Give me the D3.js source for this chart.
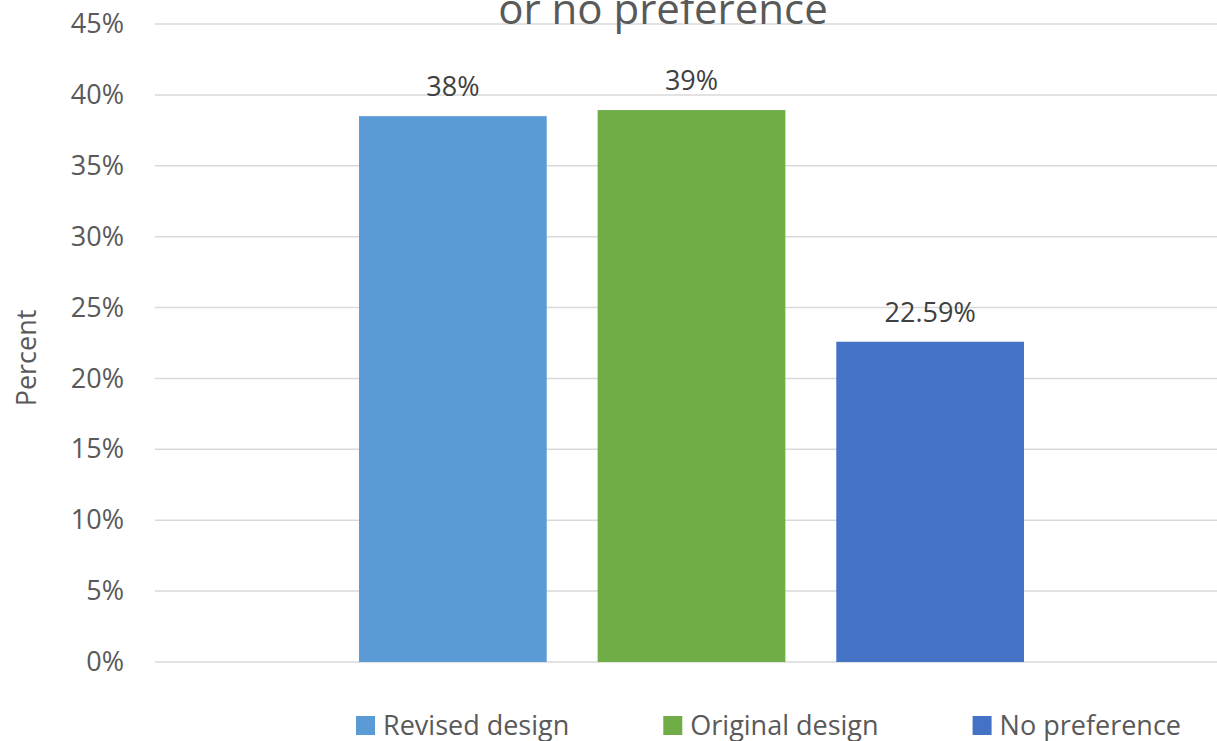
<!DOCTYPE html>
<html>
<head>
<meta charset="utf-8">
<script src="https://d3js.org/d3.v7.min.js"></script>
<style>
  body { margin: 0; background: #fff; }
  text { font-family: "Open Sans", "Noto Sans", sans-serif; }
</style>
</head>
<body>
<script>
// Data
let categories = [""];
let seriesNames = ["Revised design", "Original design", "No preference"];
let seriesValues = [38.5, 38.93, 22.59];
let valueLabels = ["38%", "39%", "22.59%"];
let seriesColors = ["#5b9bd5", "#70ad47", "#4472c4"];
let yTicks = [0, 5, 10, 15, 20, 25, 30, 35, 40, 45];

let W = 1217, H = 741;
let margin = { left: 155, right: -11, top: 24, bottom: 79 };

let svg = d3.select('body').append('svg')
            .attr('width', W)
            .attr('height', H);

let y = d3.scaleLinear()
          .domain([0, 45])
          .range([H - margin.bottom, margin.top]);

let x0 = d3.scaleBand()
           .domain(categories)
           .range([margin.left, W - margin.right])
           .paddingInner(0)
           .paddingOuter(0.3068);

let x1 = d3.scaleBand()
           .domain(seriesNames)
           .range([0, x0.bandwidth()])
           .paddingInner(0.2134)
           .paddingOuter(0);

// Gridlines
svg.append('g')
   .selectAll('line')
   .data(yTicks)
   .enter()
   .append('line')
   .attr('x1', margin.left)
   .attr('x2', W - margin.right)
   .attr('y1', d => y(d))
   .attr('y2', d => y(d))
   .attr('stroke', '#d9d9d9')
   .attr('stroke-width', 1.5);

// Y axis labels
let yAxis = svg.append('g')
   .attr('transform', `translate(${margin.left - 31},0)`)
   .call(d3.axisLeft(y).tickValues(yTicks).tickSize(0).tickPadding(0).tickFormat(d => d + '%'));
yAxis.select('.domain').remove();
yAxis.selectAll('text')
   .attr('fill', '#595959')
   .attr('font-size', 27)
   .attr('font-family', '"Open Sans", "Noto Sans", sans-serif');

// Y axis title
svg.append('text')
   .attr('transform', 'translate(36,358) rotate(-90)')
   .attr('text-anchor', 'middle')
   .attr('fill', '#595959')
   .attr('font-size', 27)
   .text('Percent');

// Title (second line visible)
svg.append('text')
   .attr('x', 663)
   .attr('y', 24)
   .attr('text-anchor', 'middle')
   .attr('fill', '#595959')
   .attr('font-size', 42)
   .text('or no preference');

// Bars
let rows = seriesNames.map((s, i) => ({ name: s, value: seriesValues[i], label: valueLabels[i], color: seriesColors[i] }));

let group = svg.append('g')
   .attr('transform', `translate(${x0(categories[0])},0)`);

group.selectAll('rect')
   .data(rows)
   .enter()
   .append('rect')
   .attr('x', d => x1(d.name))
   .attr('width', x1.bandwidth())
   .attr('y', d => y(d.value))
   .attr('height', d => y(0) - y(d.value))
   .attr('fill', d => d.color);

group.selectAll('.vlabel')
   .data(rows)
   .enter()
   .append('text')
   .attr('class', 'vlabel')
   .attr('x', d => x1(d.name) + x1.bandwidth() / 2)
   .attr('y', d => y(d.value) - 20)
   .attr('text-anchor', 'middle')
   .attr('fill', '#404040')
   .attr('font-size', 27)
   .text(d => d.label);

// Legend
let legend = svg.append('g').attr('transform', 'translate(356,0)');
let lx = 0;
rows.forEach(function (d) {
    let item = legend.append('g').attr('transform', `translate(${lx},0)`);
    item.append('rect')
        .attr('x', 0)
        .attr('y', 716)
        .attr('width', 19)
        .attr('height', 19)
        .attr('fill', d.color);
    let t = item.append('text')
        .attr('x', 27)
        .attr('y', 735)
        .attr('fill', '#595959')
        .attr('font-size', 27)
        .text(d.name);
    lx += 27 + t.node().getComputedTextLength() + 94;
});
</script>
</body>
</html>
